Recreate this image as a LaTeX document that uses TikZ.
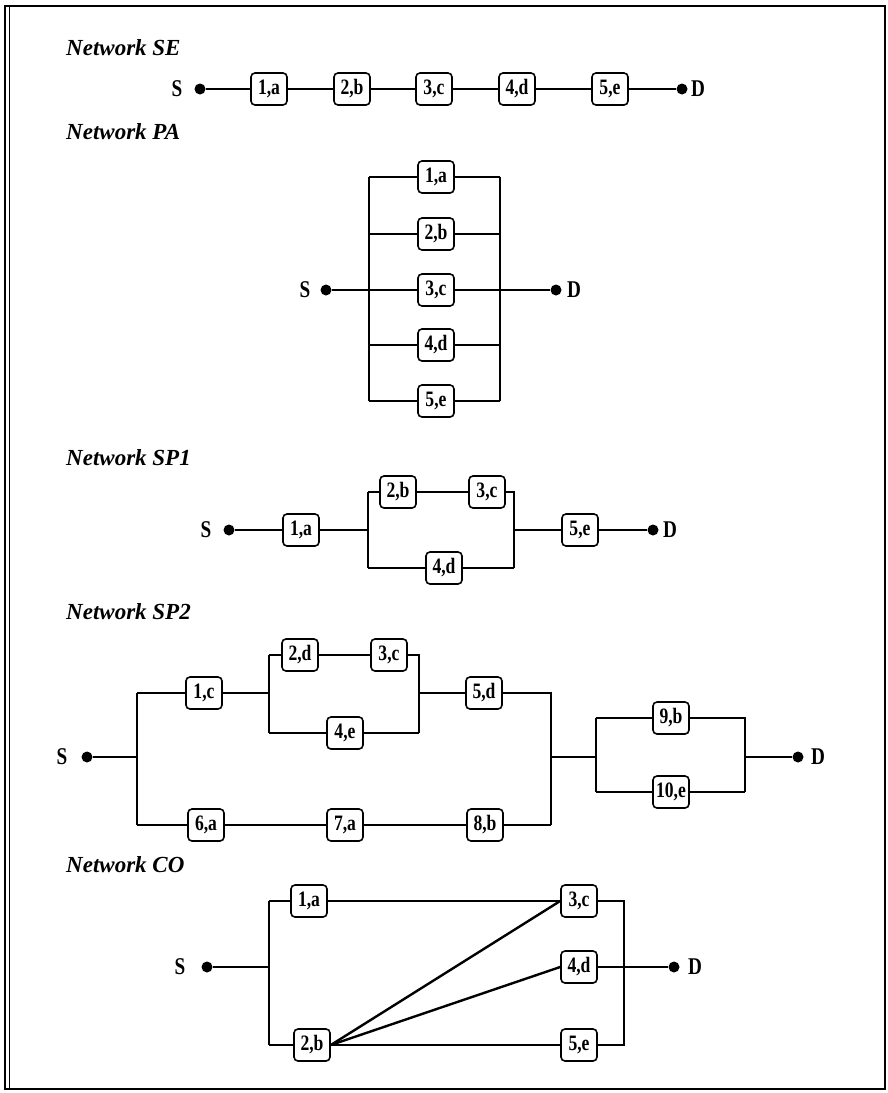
\documentclass[tikz,border=0pt]{standalone}
\usepackage{fontspec}
\setmainfont{Liberation Serif}
\newfontfamily\lblfont[FakeStretch=0.8]{Liberation Serif}
\newfontfamily\ttlfont{Liberation Serif}
\begin{document}
\begin{tikzpicture}[x=1pt,y=-1pt,
  blk/.style={draw, rounded corners=4pt, line width=1.6pt, minimum width=36pt, minimum height=32pt, inner sep=0pt, fill=white, font=\lblfont\bfseries\fontsize{22}{22}\selectfont},
  wire/.style={line width=1.8pt},
  diag/.style={line width=2.4pt},
  dotn/.style={circle, fill=black, inner sep=0pt, minimum size=11pt},
  term/.style={inner sep=0pt, font=\lblfont\bfseries\fontsize{24}{24}\selectfont},
  ttl/.style={anchor=west, inner sep=0pt, font=\ttlfont\bfseries\itshape\fontsize{23}{23}\selectfont}]
\useasboundingbox (0,0) rectangle (888,1093);
\draw[line width=2.4pt] (5,6) rectangle (885,1089);
\draw[line width=1pt] (9,6) -- (9,1089);

% ---------- Network SE ----------
\node[ttl] (tse) at (66,48) {Network SE};
\node[term] (seS) at (177,89) {S};
\node[dotn] (seSd) at (200,89) {};
\node[blk] (se1) at (269,89) {1,a};
\node[blk] (se2) at (352,89) {2,b};
\node[blk] (se3) at (434,89) {3,c};
\node[blk] (se4) at (517,89) {4,d};
\node[blk] (se5) at (610,89) {5,e};
\node[dotn] (seDd) at (682,89) {};
\node[term] (seD) at (698,89) {D};
\draw[wire] (seSd) -- (se1) -- (se2) -- (se3) -- (se4) -- (se5) -- (seDd);

% ---------- Network PA ----------
\node[ttl] (tpa) at (66,132) {Network PA};
\node[term] (paS) at (305,290) {S};
\node[dotn] (paSd) at (326,290) {};
\node[dotn] (paDd) at (556,290) {};
\node[term] (paD) at (574,290) {D};
\foreach \i/\lab/\yy in {1/{1,a}/177,2/{2,b}/234,3/{3,c}/290,4/{4,d}/345,5/{5,e}/401}{
  \node[blk] (pa\i) at (436,\yy) {\lab};
  \coordinate (paL\i) at (369,\yy);
  \coordinate (paR\i) at (500,\yy);
  \draw[wire] (paL\i) -- (pa\i) -- (paR\i);
}
\draw[wire] (paL1) -- (paL5);
\draw[wire] (paR1) -- (paR5);
\draw[wire] (paSd) -- (paL3);
\draw[wire] (paR3) -- (paDd);

% ---------- Network SP1 ----------
\node[ttl] (tsp1) at (66,458) {Network SP1};
\node[term] (s1S) at (206,530) {S};
\node[dotn] (s1Sd) at (229,530) {};
\node[blk] (s1a) at (301,530) {1,a};
\coordinate (s1jL) at (368,530);
\coordinate (s1jLt) at (368,492);
\coordinate (s1jLb) at (368,568);
\node[blk] (s1b) at (398,492) {2,b};
\node[blk] (s1c) at (487,492) {3,c};
\node[blk] (s1d) at (444,568) {4,d};
\coordinate (s1jR) at (514,530);
\coordinate (s1jRt) at (514,492);
\coordinate (s1jRb) at (514,568);
\node[blk] (s1e) at (580,530) {5,e};
\node[dotn] (s1Dd) at (653,530) {};
\node[term] (s1D) at (670,530) {D};
\draw[wire] (s1Sd) -- (s1a) -- (s1jL);
\draw[wire] (s1jLt) -- (s1jLb);
\draw[wire] (s1jLt) -- (s1b) -- (s1c) -- (s1jRt) -- (s1jRb);
\draw[wire] (s1jLb) -- (s1d) -- (s1jRb);
\draw[wire] (s1jR) -- (s1e) -- (s1Dd);

% ---------- Network SP2 ----------
\node[ttl] (tsp2) at (66,612) {Network SP2};
\node[term] (s2S) at (62,757) {S};
\node[dotn] (s2Sd) at (87,757) {};
\coordinate (s2A) at (137,757);
\coordinate (s2At) at (137,693);
\coordinate (s2Ab) at (137,825);
\node[blk] (s2c1) at (204,693) {1,c};
\coordinate (s2B) at (269,693);
\coordinate (s2Bt) at (269,655);
\coordinate (s2Bb) at (269,733);
\node[blk] (s2d2) at (300,655) {2,d};
\node[blk] (s2c3) at (389,655) {3,c};
\node[blk] (s2e4) at (345,733) {4,e};
\coordinate (s2C) at (419,693);
\coordinate (s2Ct) at (419,655);
\coordinate (s2Cb) at (419,733);
\node[blk] (s2d5) at (484,693) {5,d};
\node[blk] (s2a6) at (206,825) {6,a};
\node[blk] (s2a7) at (345,825) {7,a};
\node[blk] (s2b8) at (485,825) {8,b};
\coordinate (s2Et) at (551,693);
\coordinate (s2E) at (551,757);
\coordinate (s2Eb) at (551,825);
\coordinate (s2F) at (596,757);
\coordinate (s2Ft) at (596,718);
\coordinate (s2Fb) at (596,792);
\node[blk] (s2b9) at (671,718) {9,b};
\node[blk] (s2e10) at (671,792) {10,e};
\coordinate (s2G) at (745,757);
\coordinate (s2Gt) at (745,718);
\coordinate (s2Gb) at (745,792);
\node[dotn] (s2Dd) at (798,757) {};
\node[term] (s2D) at (818,757) {D};
\draw[wire] (s2Sd) -- (s2A);
\draw[wire] (s2At) -- (s2Ab);
\draw[wire] (s2At) -- (s2c1) -- (s2B);
\draw[wire] (s2Bt) -- (s2Bb);
\draw[wire] (s2Bt) -- (s2d2) -- (s2c3) -- (s2Ct) -- (s2Cb);
\draw[wire] (s2Bb) -- (s2e4) -- (s2Cb);
\draw[wire] (s2C) -- (s2d5) -- (s2Et) -- (s2Eb);
\draw[wire] (s2Ab) -- (s2a6) -- (s2a7) -- (s2b8) -- (s2Eb);
\draw[wire] (s2E) -- (s2F);
\draw[wire] (s2Ft) -- (s2Fb);
\draw[wire] (s2Ft) -- (s2b9) -- (s2Gt) -- (s2Gb);
\draw[wire] (s2Fb) -- (s2e10) -- (s2Gb);
\draw[wire] (s2G) -- (s2Dd);

% ---------- Network CO ----------
\node[ttl] (tco) at (66,865) {Network CO};
\node[term] (coS) at (180,967) {S};
\node[dotn] (coSd) at (207,967) {};
\coordinate (coL) at (269,967);
\coordinate (coLt) at (269,901);
\coordinate (coLb) at (269,1045);
\node[blk] (coa) at (309,901) {1,a};
\node[blk] (cob) at (312,1045) {2,b};
\node[blk] (coc) at (579,901) {3,c};
\node[blk] (cod) at (579,967) {4,d};
\node[blk] (coe) at (579,1045) {5,e};
\coordinate (coRt) at (624,901);
\coordinate (coRb) at (624,1045);
\node[dotn] (coDd) at (674,967) {};
\node[term] (coD) at (695,967) {D};
\draw[wire] (coSd) -- (coL);
\draw[wire] (coLt) -- (coLb);
\draw[wire] (coLt) -- (coa) -- (coc) -- (coRt) -- (coRb) -- (coe) -- (cob) -- (coLb);
\draw[wire] (cod) -- (coDd);
\draw[diag] (cob.east) -- (coc.west);
\draw[diag] (cob.east) -- (cod.west);
\end{tikzpicture}
\end{document}
